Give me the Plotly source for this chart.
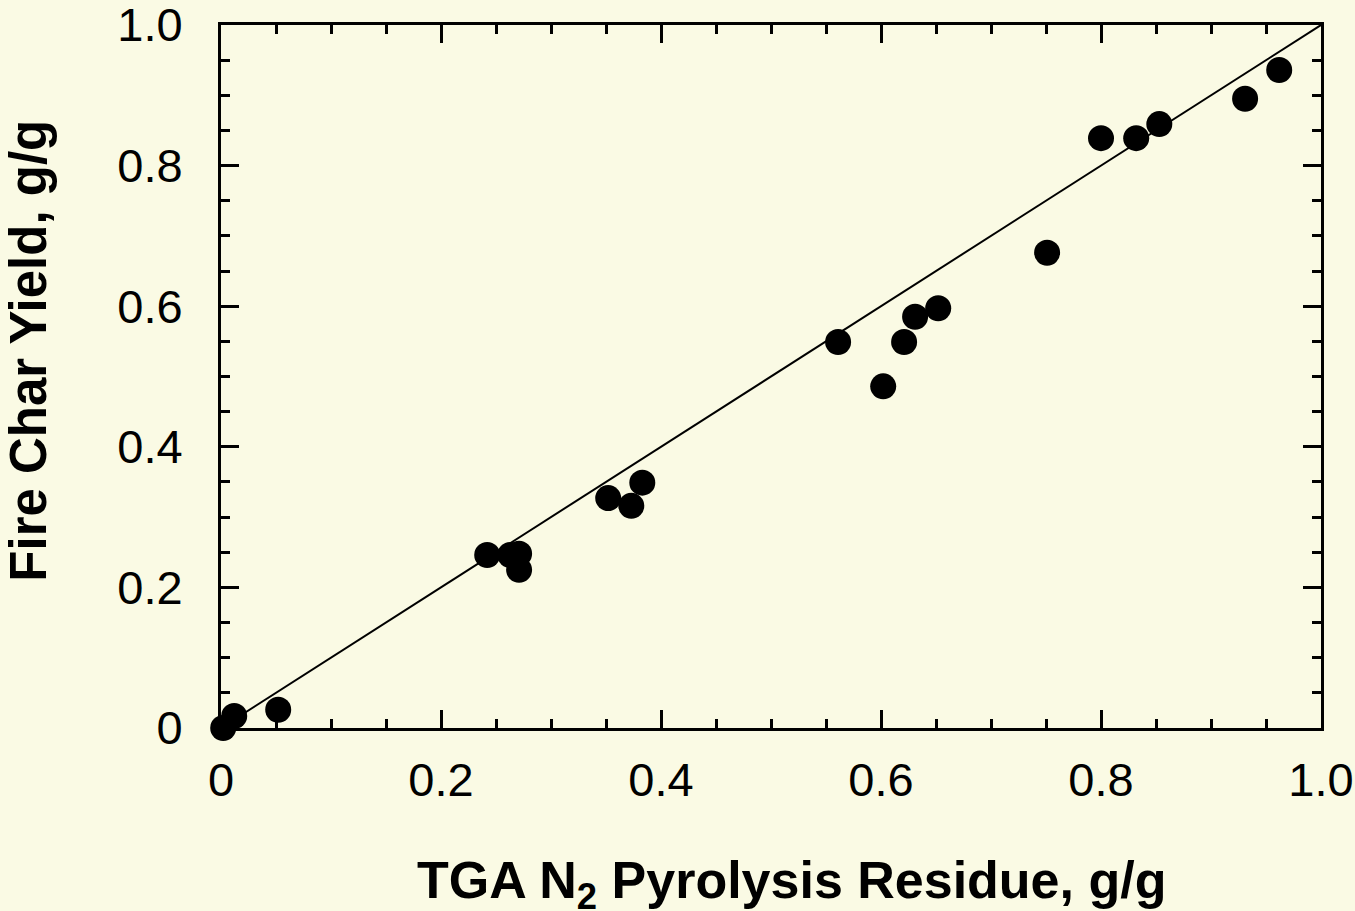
import plotly.graph_objects as go

tga_residue = [0.002, 0.012, 0.052, 0.242, 0.263, 0.271, 0.271, 0.352, 0.373, 0.383,
               0.561, 0.602, 0.621, 0.631, 0.652, 0.751, 0.800, 0.832, 0.853, 0.931, 0.962]
fire_char = [0.0, 0.017, 0.026, 0.246, 0.246, 0.248, 0.225, 0.327, 0.316, 0.349,
             0.549, 0.486, 0.549, 0.585, 0.597, 0.676, 0.839, 0.839, 0.859, 0.895, 0.936]
line_x = [0.0, 1.0]
line_y = [0.0, 1.0]
tick_vals = [0, 0.2, 0.4, 0.6, 0.8, 1.0]
tick_text = ["0", "0.2", "0.4", "0.6", "0.8", "1.0"]

bg = "#FAFAE4"
fig = go.Figure()
fig.add_trace(go.Scatter(x=line_x, y=line_y, mode="lines",
                         line=dict(color="black", width=2), showlegend=False))
fig.add_trace(go.Scatter(x=tga_residue, y=fire_char, mode="markers",
                         marker=dict(color="black", size=26), cliponaxis=False,
                         showlegend=False))

axis_common = dict(
    range=[0, 1], tickvals=tick_vals, ticktext=tick_text,
    ticks="inside", ticklen=18, tickwidth=2.5, tickcolor="black",
    showline=True, linecolor="black", linewidth=3, mirror="allticks",
    showgrid=False, zeroline=False, automargin=False, ticklabeloverflow="allow",
    tickfont=dict(family="Liberation Sans, Arial, sans-serif", size=47, color="black"),
    minor=dict(ticks="inside", dtick=0.05, ticklen=9, tickwidth=2.5, tickcolor="black"),
)
fig.update_xaxes(**axis_common, ticklabelstandoff=9)
fig.update_yaxes(**axis_common, ticklabelstandoff=26)

fig.add_annotation(text="<b>TGA N<sub>2</sub> Pyrolysis Residue, g/g</b>",
                   xref="paper", yref="paper", x=0.519, y=-0.222,
                   xanchor="center", yanchor="middle", showarrow=False,
                   font=dict(family="Liberation Sans, Arial, sans-serif",
                             size=52, color="black"))
fig.add_annotation(text="<b>Fire Char Yield, g/g</b>",
                   xref="paper", yref="paper", x=-0.175, y=0.536,
                   xanchor="center", yanchor="middle", showarrow=False, textangle=-90,
                   font=dict(family="Liberation Sans, Arial, sans-serif", size=51, color="black"))

fig.update_layout(width=1355, height=911, paper_bgcolor=bg, plot_bgcolor=bg,
                  margin=dict(l=221, r=34, t=25, b=183, autoexpand=False), showlegend=False)
fig.write_html("out.html")
